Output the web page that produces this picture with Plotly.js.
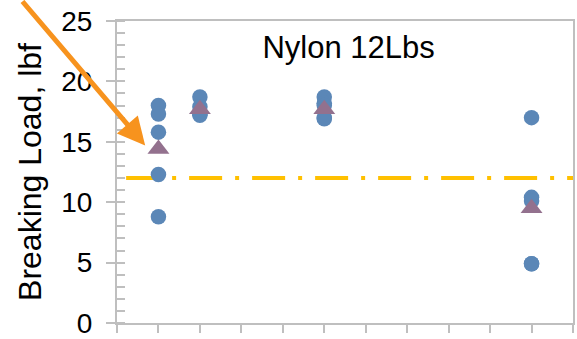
<!DOCTYPE html>
<html>
<head>
<meta charset="utf-8">
<script src="https://cdn.plot.ly/plotly-3.0.1.min.js"></script>
<style>
  html, body { margin: 0; padding: 0; background: #ffffff; }
  #chart { width: 577px; height: 339px; }
</style>
</head>
<body>
<div id="chart"></div>
<script>
// Individual breaking-load tests (lbf) per sample position
const sample1X = [1, 1, 1, 1, 1];
const sample1Y = [18.0, 17.3, 15.8, 12.3, 8.8];
const sample2X = [2, 2, 2, 2, 2];
const sample2Y = [18.7, 17.9, 17.4, 17.3, 17.2];
const sample5X = [5, 5, 5, 5, 5];
const sample5Y = [18.7, 18.2, 18.0, 17.0, 16.9];
const sample10X = [10, 10, 10, 10, 10];
const sample10Y = [17.0, 10.4, 10.1, 4.9, 4.9];

// Average load for each sample position
const avgX = [1, 2, 5, 10];
const avgY = [14.4, 17.7, 17.7, 9.5];

// Rated strength of the 12 lb line
const ratedX = [0.22, 11];
const ratedY = [12, 12];

// Arrow pointing at the first average
const arrowTipX = 0.68;
const arrowTipY = 14.7;

const yTickVals = [0, 5, 10, 15, 20, 25];
const yTickText = ['0', '5', '10', '15', '20', '25'];

const axisGray = '#bfbfbf';
const fontFamily = 'Liberation Sans, Arial, sans-serif';

const testX = [].concat(sample1X, sample2X, sample5X, sample10X);
const testY = [].concat(sample1Y, sample2Y, sample5Y, sample10Y);

const traces = [
  {
    x: ratedX, y: ratedY, type: 'scatter', mode: 'lines',
    line: { color: '#ffc000', width: 4, dash: '33px,13px,4px,13px' },
    hoverinfo: 'skip', showlegend: false
  },
  {
    x: testX, y: testY, type: 'scatter', mode: 'markers',
    marker: { symbol: 'circle', size: 15.5, color: '#5b87b7', line: { width: 0 } },
    showlegend: false
  },
  {
    x: avgX, y: avgY, type: 'scatter', mode: 'markers',
    marker: { symbol: 'triangle-up', size: 19, color: '#93718e', line: { width: 0 } },
    showlegend: false
  },
  {
    // carries the inner half of the major y ticks
    x: [], y: [], type: 'scatter', mode: 'markers', xaxis: 'x', yaxis: 'y2',
    showlegend: false, hoverinfo: 'skip'
  }
];

const layout = {
  width: 577,
  height: 339,
  margin: { l: 116.5, r: 3.7, t: 20.7, b: 16.3, pad: 0 },
  paper_bgcolor: '#ffffff',
  plot_bgcolor: '#ffffff',
  showlegend: false,
  title: {
    text: 'Nylon 12Lbs',
    font: { family: fontFamily, size: 31, color: '#000000' },
    xref: 'paper', yref: 'paper',
    x: 0.508, xanchor: 'center',
    y: 0.915, yanchor: 'middle'
  },
  xaxis: {
    range: [0, 11],
    dtick: 1, tick0: 0,
    showticklabels: false,
    ticks: 'outside', ticklen: 8, tickwidth: 2, tickcolor: axisGray,
    showline: true, linecolor: axisGray, linewidth: 2,
    mirror: true,
    showgrid: false, zeroline: false,
    fixedrange: true
  },
  yaxis: {
    range: [0, 25],
    tickmode: 'array', tickvals: yTickVals, ticktext: yTickText,
    tickfont: { family: fontFamily, size: 28, color: '#000000' },
    ticklabeloverflow: 'allow',
    ticks: 'outside', ticklen: 9, tickwidth: 2, tickcolor: axisGray,
    ticklabelstandoff: 8,
    minor: { dtick: 1, tick0: 0, ticks: 'inside', ticklen: 8, tickwidth: 2, tickcolor: axisGray },
    showline: true, linecolor: axisGray, linewidth: 2,
    mirror: true,
    showgrid: false, zeroline: false,
    title: {
      text: 'Breaking Load, lbf',
      font: { family: fontFamily, size: 32, color: '#000000' },
      standoff: 10
    },
    fixedrange: true
  },
  yaxis2: {
    range: [0, 25],
    overlaying: 'y', side: 'left', anchor: 'x',
    tickmode: 'array', tickvals: yTickVals,
    showticklabels: false,
    ticks: 'inside', ticklen: 8, tickwidth: 2, tickcolor: axisGray,
    showline: false, showgrid: false, zeroline: false,
    fixedrange: true
  },
  annotations: [
    {
      x: arrowTipX, y: arrowTipY, xref: 'x', yref: 'y',
      text: '',
      showarrow: true,
      arrowhead: 2, arrowsize: 1.1, arrowwidth: 5,
      arrowcolor: '#f7931e',
      ax: -124, ay: -147
    }
  ]
};

Plotly.newPlot('chart', traces, layout, { staticPlot: true, displayModeBar: false });
</script>
</body>
</html>
